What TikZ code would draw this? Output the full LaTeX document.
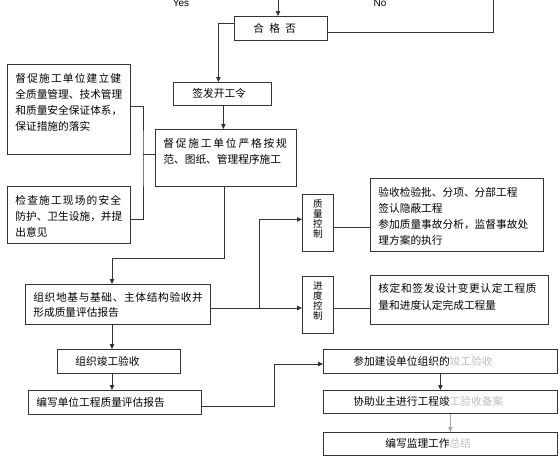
\documentclass[tikz,border=0pt]{standalone}
\usepackage{fontspec}
\setmainfont{Noto Sans CJK SC}
\newfontfamily\latinfont{Liberation Sans}
\newfontfamily\wideA{Noto Sans CJK SC}[LetterSpace=11]
\newfontfamily\wideB{Noto Sans CJK SC}[LetterSpace=17]
\newfontfamily\wideC{Noto Sans CJK SC}[LetterSpace=6]
\usetikzlibrary{arrows.meta, positioning}

% box content: width, height, left pad, top pad, text
\newcommand{\boxtext}[5]{\parbox[c][#2pt][t]{#1pt}{\leftskip=#3pt\parindent=0pt\vspace*{#4pt}#5}}
\newcommand{\faded}[1]{{\color{black!25}#1}}

\begin{document}
\begin{tikzpicture}[
    x=1pt, y=-1pt,
    >={Triangle[length=5pt,width=4.5pt]},
    every node/.style={font=\fontsize{10.7}{16}\selectfont},
    box/.style={draw=black!80, line width=0.8pt, anchor=north west, inner sep=0pt},
    link/.style={draw=black!80, line width=0.8pt},
]
\useasboundingbox (0,0) rectangle (560,463);

% Yes / No branch labels
\node[font=\latinfont\fontsize{10}{12}\selectfont] (yes) at (181,3) {Yes};
\node[font=\latinfont\fontsize{10}{12}\selectfont] (no) at (380,3) {No};

% Main column
\node[box] (hege) at (234,16) {\boxtext{93}{24}{19}{7}{合\hspace{5.3pt}格\hspace{5.3pt}否}};
\node[box] (qianfa) at (173,82) {\boxtext{98}{23}{19}{6.5}{签发开工令}};
\node[box] (main) at (155,129) {\boxtext{141}{57}{8}{9}{{\wideB 督促施工单位严格按规}\\范、图纸、管理程序施工}};

% Left notes
\node[box] (box1) at (7,64) {\boxtext{123}{90}{8}{9}{{\wideA 督促施工单位建立健}\\全质量管理、技术管理\\和质量安全保证体系，\\保证措施的落实}};
\node[box] (box2) at (7,186) {\boxtext{123}{57}{8}{9}{{\wideA 检查施工现场的安全}\\防护、卫生设施，并提\\出意见}};

% Acceptance column
\node[box] (zuzhi) at (25,284) {\boxtext{185}{40}{8}{8}{\baselineskip=15pt{\wideC 组织地基与基础、主体结构验收并}\\形成质量评估报告}};
\node[box] (jungong) at (57,349) {\boxtext{123}{24}{18}{7}{组织竣工验收}};
\node[box] (bianxie) at (28,390) {\boxtext{173}{24}{8}{7}{编写单位工程质量评估报告}};

% Controls
\node[box] (zhiliang) at (302,194) {\boxtext{31}{57}{0}{5}{\centering\fontsize{9.5}{10}\selectfont 质\\量\\控\\制}};
\node[box] (jindu) at (302,276) {\boxtext{31}{57}{0}{5}{\centering\fontsize{9.5}{10}\selectfont 进\\度\\控\\制}};
\node[box] (zlright) at (370,178) {\boxtext{173}{73}{8}{9}{验收检验批、分项、分部工程\\签认隐蔽工程\\参加质量事故分析，监督事故处\\理方案的执行}};
\node[box] (jdright) at (370,275) {\boxtext{178}{49}{8}{8}{\baselineskip=17pt{\wideC 核定和签发设计变更认定工程质}\\量和进度认定完成工程量}};

% Completion column
\node[box] (canjia) at (323,349) {\boxtext{234}{24}{30}{7}{参加建设单位组织的\faded{竣工验收}}};
\node[box] (xiezhu) at (323,390) {\boxtext{234}{23}{30}{6.5}{协助业主进行工程竣\faded{工验收备案}}};
\node[box] (zongjie) at (323,432) {\boxtext{234}{23}{62}{6.5}{编写监理工作\faded{总结}}};

% Connectors at the top
\coordinate (topin) at (278,-5);
\coordinate (noup) at (493,-5);
\draw[link,->] (topin) -- (topin |- hege.north);
\draw[link] ([yshift=-4pt]hege.east) -| (noup);
\draw[link,->] ([yshift=5pt]hege.west) -| ([xshift=-4pt]qianfa.north);
\draw[link,->] ([xshift=1pt]qianfa.south) -- ([xshift=1pt]qianfa.south |- main.north);

% Bracket joining the left notes
\coordinate (brk) at (143,154);
\draw[link] ([yshift=3pt]box1.east) -| (brk) |- ([yshift=-4.5pt]box2.east);
\draw[link] (brk) -- (brk -| main.west);

% Spine down the left
\coordinate (spine) at (112,258);
\draw[link,->] ([xshift=-2pt]main.south) |- (spine) -- (spine |- zuzhi.north);
\draw[link,->] (spine |- zuzhi.south) -- (spine |- jungong.north);
\draw[link,->] (spine |- jungong.south) -- (spine |- bianxie.north);

% Quality and progress control
\coordinate (fork) at (259,308);
\draw[link,->] (zuzhi.east |- fork) -- (fork -| jindu.west);
\draw[link,->] (fork) |- ([yshift=3.5pt]zhiliang.west);
\draw[link] ([yshift=-4pt]zhiliang.east) -- ([yshift=-4pt]zhiliang.east -| zlright.west);
\draw[link] (fork -| jindu.east) -- (fork -| jdright.west);

% Completion steps
\coordinate (turn) at (274,364);
\draw[link,->] ([yshift=-4pt]bianxie.east) -| (turn) -- (turn -| canjia.west);
\draw[link,->] (canjia.south) -- (xiezhu.north);
\draw[link,draw=black!35,->] ([xshift=10pt]xiezhu.south) -- ([xshift=10pt]zongjie.north);

\end{tikzpicture}
\end{document}
